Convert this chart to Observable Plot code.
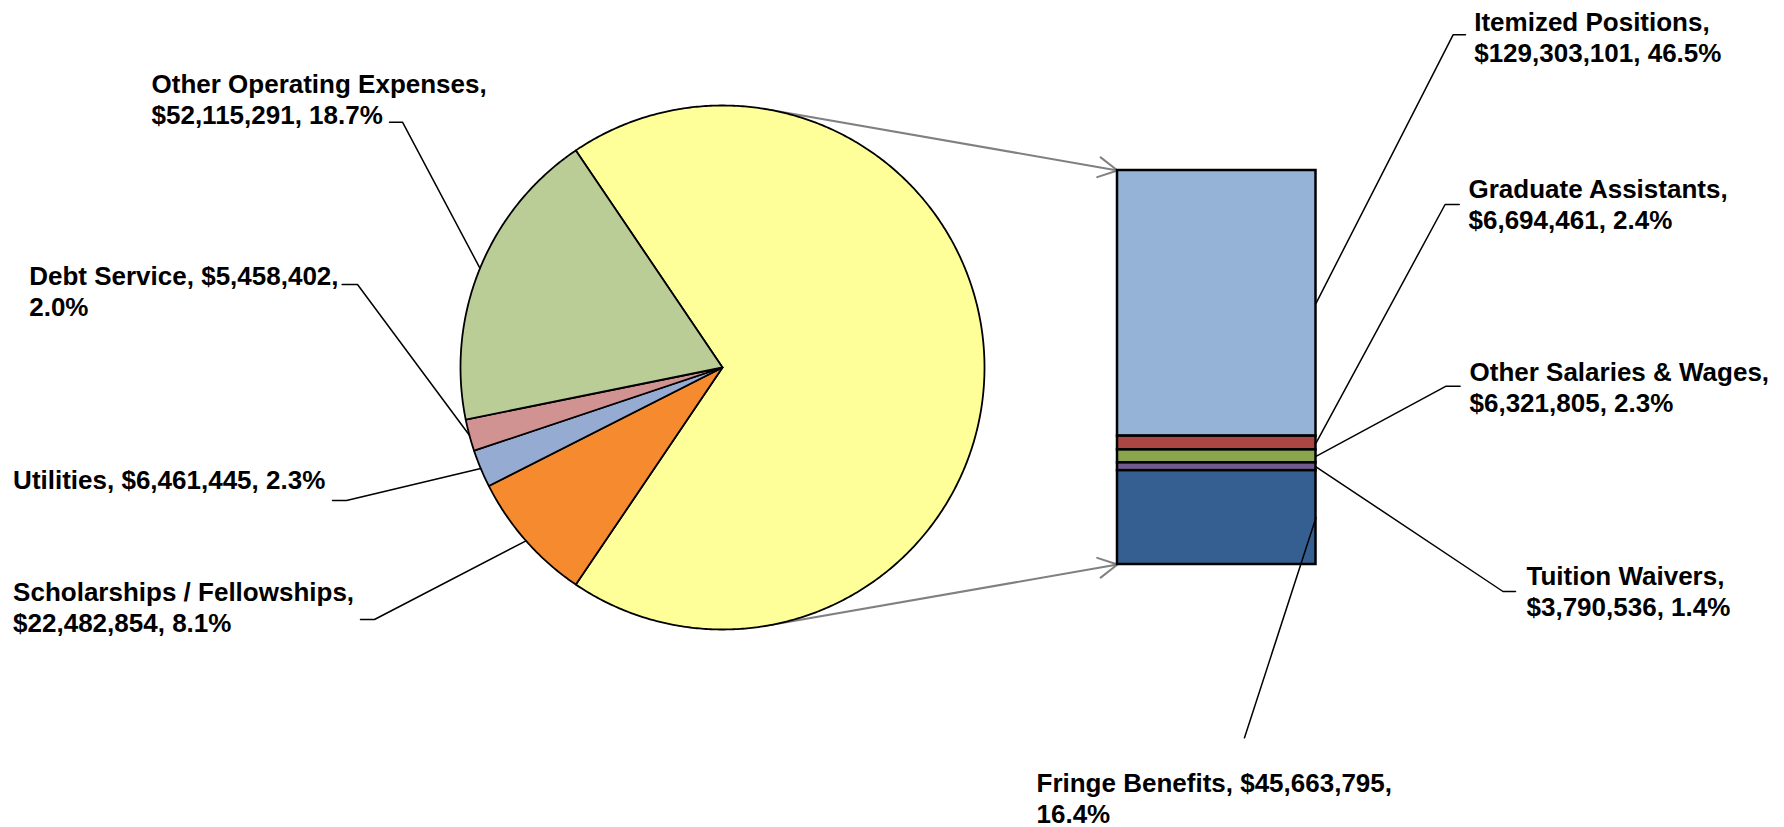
<!DOCTYPE html>
<html>
<head>
<meta charset="utf-8">
<script src="https://cdn.jsdelivr.net/npm/d3@7"></script>
<script src="https://cdn.jsdelivr.net/npm/@observablehq/plot@0.6"></script>
<style>
  html, body { margin: 0; padding: 0; background: #fff; }
  #chart svg { display: block; }
</style>
</head>
<body>
<div id="chart"></div>
<script>
// ---------- DATA ----------
// Primary pie (clockwise after the personnel slice)
const pieCategories = ["Scholarships / Fellowships", "Utilities", "Debt Service", "Other Operating Expenses"];
const pieValues = [22482854, 6461445, 5458402, 52115291];
const pieColors = ["#F68A2E", "#95ABD2", "#D19392", "#BACD97"];
const personnelColor = "#FFFF99";

// Secondary stacked bar (top to bottom)
const barCategories = ["Itemized Positions", "Graduate Assistants", "Other Salaries & Wages", "Tuition Waivers", "Fringe Benefits"];
const barValues = [129303101, 6694461, 6321805, 3790536, 45663795];
const barColors = ["#95B3D7", "#AA4643", "#89A54E", "#71588F", "#365F91"];

// ---------- LAYOUT ----------
const W = 1784, H = 827;
const cx = 722, cy = 367, R = 262;           // pie centre / radius
const bx1 = 1117, bx2 = 1315.5, by1 = 170, by2 = 564; // bar box
const fontSize = 26, lineH = 31;

const labelLayout = {
  "Other Operating Expenses":   {x: 151,  y: 92,  brk: 1, tick: [389, 402, 121.7]},
  "Debt Service":               {x: 28.7, y: 284, brk: 2, tick: [341.6, 357, 284]},
  "Utilities":                  {x: 12.6, y: 488, brk: 0, tick: [332, 346, 500]},
  "Scholarships / Fellowships": {x: 12.6, y: 600, brk: 1, tick: [360, 374, 619]},
  "Itemized Positions":         {x: 1473.7, y: 30,  brk: 1, tick: [1465, 1452.6, 34.3]},
  "Graduate Assistants":        {x: 1468, y: 197.5, brk: 1, tick: [1458.7, 1444.6, 204]},
  "Other Salaries & Wages":     {x: 1469, y: 380, brk: 1, tick: [1459.6, 1445.6, 385.7]},
  "Tuition Waivers":            {x: 1526, y: 584, brk: 1, tick: [1515, 1502.5, 591]},
  "Fringe Benefits":            {x: 1036, y: 791, brk: 2, tick: null, from: [1244, 737.3]}
};

// ---------- DERIVED ----------
const personnel = d3.sum(barValues);
const total = personnel + d3.sum(pieValues);
const deg = v => v / total * 360;
const rad = a => a * Math.PI / 180;
const onCircle = a => [cx + R * Math.sin(rad(a)), cy - R * Math.cos(rad(a))];

const slices = [];
let a0 = 90 - deg(personnel) / 2;
[{name: "Personnel", value: personnel, color: personnelColor},
 ...pieCategories.map((n, i) => ({name: n, value: pieValues[i], color: pieColors[i]}))]
.forEach(s => {
  const a1 = a0 + deg(s.value);
  slices.push({...s, a0, a1, mid: (a0 + a1) / 2});
  a0 = a1;
});

const piePts = [];
for (const s of slices) {
  piePts.push({name: s.name, color: s.color, x: cx, y: cy});
  const n = Math.max(2, Math.ceil((s.a1 - s.a0) / 0.5));
  for (let k = 0; k <= n; k++) {
    const [x, y] = onCircle(s.a0 + (s.a1 - s.a0) * k / n);
    piePts.push({name: s.name, color: s.color, x, y});
  }
}

const barY = d3.scaleLinear([0, personnel], [by1, by2]);
const cum = d3.cumsum(barValues);
const barRects = barCategories.map((n, i) => ({
  name: n, color: barColors[i],
  y1: barY(cum[i] - barValues[i]), y2: barY(cum[i])
}));

// tangent "series lines" from bar corners to the pie
function tangent(px, py, upper) {
  const dx = px - cx, dy = py - cy, d = Math.hypot(dx, dy);
  const phi = Math.atan2(dy, dx), a = Math.acos(R / d);
  const t = upper ? phi - a : phi + a;
  return [cx + R * Math.cos(t), cy + R * Math.sin(t)];
}
const tTop = tangent(bx1, by1, true), tBot = tangent(bx1, by2, false);
const arrows = [
  {x1: tTop[0], y1: tTop[1], x2: bx1, y2: by1},
  {x1: tBot[0], y1: tBot[1], x2: bx1, y2: by2}
];

const money = d3.format(",");
const pct = d3.format(".1%");
const textLines = [];
const leaderPts = [];
function addLabel(name, value, target) {
  const L = labelLayout[name];
  const parts = [name + ",", "$" + money(value) + ",", pct(value / total)];
  const lines = L.brk === 0 ? [parts.join(" ")]
    : [parts.slice(0, L.brk).join(" "), parts.slice(L.brk).join(" ")];
  lines.forEach((t, i) => textLines.push({text: t, x: L.x, y: L.y + i * lineH}));
  if (L.tick) {
    leaderPts.push({name, x: L.tick[0], y: L.tick[2]});
    leaderPts.push({name, x: L.tick[1], y: L.tick[2]});
  } else {
    leaderPts.push({name, x: L.from[0], y: L.from[1]});
  }
  leaderPts.push({name, x: target[0], y: target[1]});
}
slices.slice(1).forEach(s => addLabel(s.name, s.value, onCircle(s.mid)));
barRects.forEach((b, i) => addLabel(b.name, barValues[i], [bx2, (b.y1 + b.y2) / 2]));

// ---------- PLOT ----------
const chart = Plot.plot({
  width: W, height: H,
  margin: 0,
  x: {domain: [0, W], range: [0, W], axis: null},
  y: {domain: [0, H], range: [0, H], axis: null},
  color: {type: "identity"},
  style: {fontFamily: "'Liberation Sans', Arial, sans-serif", background: "#fff"},
  marks: [
    Plot.arrow(arrows, {x1: "x1", y1: "y1", x2: "x2", y2: "y2", stroke: "#808080", strokeWidth: 2, headLength: 16, headAngle: 56}),
    Plot.line(piePts, {x: "x", y: "y", z: "name", fill: "color", stroke: "#000", strokeWidth: 1.8, curve: "linear-closed"}),
    Plot.rect(barRects, {x1: bx1, x2: bx2, y1: "y1", y2: "y2", fill: "color", stroke: "#000", strokeWidth: 2.5}),
    Plot.line(leaderPts, {x: "x", y: "y", z: "name", stroke: "#000", strokeWidth: 1.5}),
    Plot.text(textLines, {x: "x", y: "y", text: "text", textAnchor: "start", lineAnchor: "bottom", fontSize, fontWeight: "bold", fill: "#000"})
  ]
});
document.getElementById("chart").appendChild(chart);
</script>
</body>
</html>
